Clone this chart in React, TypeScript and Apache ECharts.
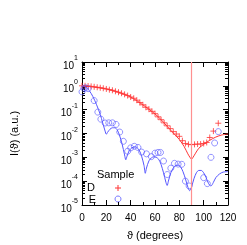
import React, { useEffect, useRef } from "react";
import * as echarts from "echarts";

const redLineX = [0, 10, 20, 30, 40, 50, 60, 65, 70, 75, 80, 84, 87, 89, 90, 91, 93, 96, 100, 105, 110, 115, 120];
const redLineY = [1.0, 0.89, 0.74, 0.54, 0.34, 0.16, 0.066, 0.038, 0.02, 0.0105, 0.0056, 0.0028, 0.0014, 0.00095, 0.00083, 0.00095, 0.0014, 0.0024, 0.0035, 0.0052, 0.0071, 0.0087, 0.0095];

const blueLineX = [0, 3, 6, 9, 12, 15, 17, 19, 20, 21, 23, 25, 27, 29, 31, 33, 35, 36, 37, 39, 41, 43, 45, 47, 49, 51, 52, 53, 55, 57, 59, 61, 63, 65, 67, 69, 70, 71, 73, 75, 77, 79, 81, 83, 85, 87, 88.5, 90, 92, 94, 96, 98, 100, 102, 104, 106, 108, 110, 113, 116, 120];
const blueLineY = [1.0, 0.89, 0.63, 0.35, 0.16, 0.063, 0.028, 0.0126, 0.0093, 0.0112, 0.0151, 0.0174, 0.0174, 0.0141, 0.0079, 0.00355, 0.00126, 0.00079, 0.00112, 0.002, 0.0025, 0.00275, 0.00263, 0.002, 0.00112, 0.000447, 0.000214, 0.000355, 0.00071, 0.00095, 0.00105, 0.001, 0.00083, 0.0005, 0.000224, 0.0000891, 0.000066, 0.0001, 0.000224, 0.000355, 0.000447, 0.000468, 0.000398, 0.000251, 0.000126, 0.0000562, 0.0000398, 0.0000562, 0.000126, 0.000224, 0.000282, 0.000282, 0.000224, 0.000141, 0.0000794, 0.000063, 0.0000891, 0.000141, 0.0002, 0.00024, 0.00025];

const dX = [0, 2.5, 5, 7.5, 10, 12.5, 15, 17.5, 20, 22.5, 25, 27.5, 30, 32.5, 35, 37.5, 40, 42.5, 45, 47.5, 50, 52.5, 55, 57.5, 60, 62.5, 65, 67.5, 70, 72.5, 75, 77.5, 80, 82.5, 85, 87.5, 90, 92.5, 95, 97.5, 100, 102.5, 105, 108, 112];
const dY = [1.0, 1.0, 0.98, 0.95, 0.91, 0.87, 0.83, 0.79, 0.74, 0.69, 0.65, 0.59, 0.54, 0.49, 0.44, 0.39, 0.34, 0.3, 0.25, 0.2, 0.16, 0.126, 0.105, 0.085, 0.068, 0.05, 0.038, 0.028, 0.021, 0.016, 0.012, 0.0095, 0.0076, 0.005, 0.0038, 0.0035, 0.0034, 0.0035, 0.0036, 0.0036, 0.0038, 0.0042, 0.0068, 0.0126, 0.027];

const eX = [0, 1.5, 3, 5, 10, 13, 15.5, 19, 22, 25, 28, 31, 34, 37.5, 40, 43, 46, 49, 53, 57, 60, 62.5, 64.5, 67, 70, 73, 76, 79, 82, 85, 88, 100, 103, 106, 109, 112];
const eY = [0.56, 0.79, 0.83, 0.76, 0.24, 0.079, 0.04, 0.0275, 0.028, 0.028, 0.024, 0.0115, 0.0047, 0.0018, 0.0025, 0.0029, 0.0026, 0.00166, 0.0014, 0.00107, 0.0015, 0.0016, 0.0016, 0.0007, 0.00019, 0.00035, 0.00056, 0.00052, 0.00051, 0.0001, 0.000063, 0.00014, 0.000079, 0.001, 0.004, 0.012];

const markAngle = 90;
const xTicks = { min: 0, max: 120, interval: 20 };
const yRange = { min: 1e-5, max: 10 };

const FONT = "'Liberation Sans', Arial, sans-serif";
const RED = "#ff3333";
const BLUE = "#5555ff";

const zip = (xs: number[], ys: number[]) => xs.map((x, i) => [x, ys[i]]);

export default function App() {
  const ref = useRef<HTMLDivElement>(null);
  useEffect(() => {
    const chart = echarts.init(ref.current!, null, { renderer: "svg" });
    const tickLabelRich = {
      b: { fontSize: 10, fontFamily: FONT, color: "#000", lineHeight: 16, verticalAlign: "bottom" as const },
      s: { fontSize: 7, fontFamily: FONT, color: "#000", lineHeight: 8, verticalAlign: "top" as const },
    };
    const commonX = {
      type: "value" as const,
      min: xTicks.min,
      max: xTicks.max,
      interval: xTicks.interval,
      splitLine: { show: false },
      axisLine: { show: true, onZero: false, lineStyle: { color: "#000", width: 1 } },
      axisTick: { show: true, inside: true, length: 5, lineStyle: { color: "#000" } },
      minorTick: { show: true, splitNumber: 2, length: 3, lineStyle: { color: "#000" } },
    };
    const commonY = {
      type: "log" as const,
      logBase: 10,
      min: yRange.min,
      max: yRange.max,
      interval: 1,
      splitLine: { show: false },
      axisLine: { show: true, onZero: false, lineStyle: { color: "#000", width: 1 } },
      axisTick: { show: true, inside: true, length: 5, lineStyle: { color: "#000" } },
      minorTick: { show: true, splitNumber: 9, length: 3, lineStyle: { color: "#000" } },
    };
    chart.setOption({
      animation: false,
      grid: { left: 82, right: 19, top: 62, bottom: 36, containLabel: false },
      xAxis: [
        {
          ...commonX,
          position: "bottom",
          name: "\u03d1 (degrees)",
          nameLocation: "middle",
          nameGap: 24,
          nameTextStyle: { fontSize: 11, fontFamily: FONT, color: "#000" },
          axisLabel: { fontSize: 10, fontFamily: FONT, color: "#000", margin: 7 },
        },
        { ...commonX, position: "top", axisLabel: { show: false } },
      ],
      yAxis: [
        {
          ...commonY,
          position: "left",
          name: "I(\u03d1) (a.u.)",
          nameLocation: "middle",
          nameRotate: 90,
          nameGap: 63,
          nameTextStyle: { fontSize: 11, fontFamily: FONT, color: "#000" },
          axisLabel: {
            margin: 4,
            formatter: (v: number) => `{b|10}{s|${Math.round(Math.log10(v))}}`,
            rich: tickLabelRich,
          },
        },
        { ...commonY, position: "right", axisLabel: { show: false } },
      ],
      series: [
        {
          type: "line",
          data: zip(redLineX, redLineY),
          showSymbol: false,
          smooth: 0.3,
          lineStyle: { color: RED, width: 1 },
          markLine: {
            silent: true,
            symbol: "none",
            label: { show: false },
            lineStyle: { color: "#ff9090", width: 1.2, type: "solid", opacity: 1 },
            emphasis: { disabled: true },
            data: [{ xAxis: markAngle }],
          },
        },
        {
          type: "line",
          data: zip(blueLineX, blueLineY),
          showSymbol: false,
          smooth: 0.3,
          lineStyle: { color: BLUE, width: 1 },
        },
        {
          type: "scatter",
          data: zip(dX, dY),
          symbol: "path://M5 0L5 10M0 5L10 5",
          symbolSize: 6,
          itemStyle: { color: "transparent", borderColor: RED, borderWidth: 1 },
        },
        {
          type: "scatter",
          data: zip(eX, eY),
          symbol: "circle",
          symbolSize: 6,
          itemStyle: { color: "transparent", borderColor: BLUE, borderWidth: 0.8 },
        },
      ],
      graphic: [
        { type: "text", left: 97, top: 168, style: { text: "Sample", fontSize: 11, fontFamily: FONT, fill: "#000" } },
        { type: "text", x: 95, y: 187, style: { text: "D", fontSize: 11, fontFamily: FONT, fill: "#000", align: "right", verticalAlign: "middle" } },
        { type: "text", x: 96, y: 199, style: { text: "E", fontSize: 11, fontFamily: FONT, fill: "#000", align: "right", verticalAlign: "middle" } },
        { type: "line", shape: { x1: 115, y1: 188, x2: 121, y2: 188 }, style: { stroke: RED, lineWidth: 1 } },
        { type: "line", shape: { x1: 118, y1: 185, x2: 118, y2: 191 }, style: { stroke: RED, lineWidth: 1 } },
        { type: "circle", shape: { cx: 118, cy: 199, r: 3 }, style: { stroke: BLUE, fill: "none", lineWidth: 0.8 } },
      ],
    });
    return () => chart.dispose();
  }, []);
  return <div ref={ref} style={{ position: "fixed", left: 0, top: 0, width: 247, height: 245 }} />;
}
